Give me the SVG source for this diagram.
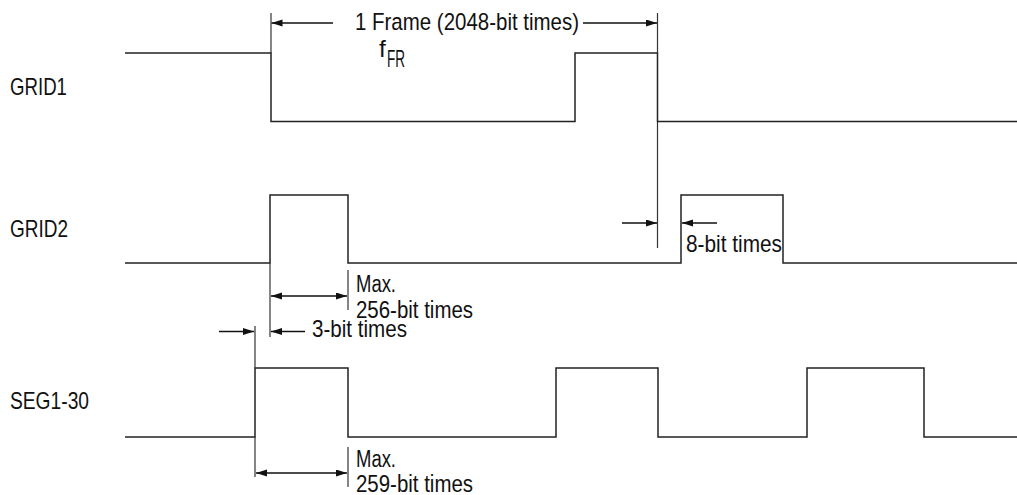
<svg xmlns="http://www.w3.org/2000/svg" width="1017" height="495" viewBox="0 0 1017 495">
<style>
.w{fill:none;stroke:#222;stroke-width:1.5}
.d{fill:none;stroke:#333;stroke-width:1.2}
.a{fill:none;stroke:#111;stroke-width:1.3;marker-end:url(#ah)}
.aa{fill:none;stroke:#111;stroke-width:1.3;marker-end:url(#ah);marker-start:url(#ah)}
text{font-family:"Liberation Sans",Arial,sans-serif;font-size:24.5px;fill:#111}
.s{font-size:23px}
</style>
<defs>
<marker id="ah" markerUnits="userSpaceOnUse" markerWidth="12" markerHeight="8" refX="11" refY="3.5" orient="auto-start-reverse">
<path d="M0,0 L11,3.5 L0,7 z" fill="#111"/>
</marker>
</defs>
<g id="labels">
<text x="10" y="95" textLength="57" lengthAdjust="spacingAndGlyphs">GRID1</text>
<text x="10" y="237" textLength="58" lengthAdjust="spacingAndGlyphs">GRID2</text>
<text x="10" y="409" textLength="79" lengthAdjust="spacingAndGlyphs">SEG1-30</text>
</g>
<g id="grid1">
<path class="w" d="M125,53 H271 V121.5 H575 V53 H657.5 V121.5 H1017"/>
</g>
<g id="grid2">
<path class="w" d="M125,263 H270 V195 H348 V263 H681 V195 H783 V263 H1017"/>
</g>
<g id="seg">
<path class="w" d="M125,437 H255 V368 H348 V437 H556 V368 H658 V437 H807 V368 H924 V437 H1017"/>
</g>
<g id="connectors">
<line class="d" x1="271" y1="13" x2="271" y2="53"/>
<line class="d" x1="657.5" y1="13" x2="657.5" y2="53"/>
<line class="d" x1="657.5" y1="121.5" x2="657.5" y2="248"/>
<line class="d" x1="270" y1="263" x2="270" y2="337"/>
<line class="d" x1="348" y1="270" x2="348" y2="310"/>
<line class="d" x1="255" y1="326" x2="255" y2="368"/>
<line class="d" x1="255" y1="437" x2="255" y2="477"/>
<line class="d" x1="348" y1="447" x2="348" y2="487"/>
<path class="a" d="M333,23 H271.5"/>
<path class="a" d="M583,23 H657"/>
<path class="aa" d="M271,296 H347"/>
<path class="a" d="M219,331.5 H254"/>
<path class="a" d="M305,331.5 H271"/>
<path class="aa" d="M256,473 H347"/>
<path class="a" d="M622,223 H657"/>
<path class="a" d="M717,223 H682"/>
</g>
<g id="annotations">
<text x="355" y="30" textLength="224" lengthAdjust="spacingAndGlyphs">1 Frame (2048-bit times)</text>
<text x="379" y="57">f</text>
<text x="387" y="67" textLength="18" lengthAdjust="spacingAndGlyphs">FR</text>
<text class="s" x="356" y="292" textLength="40" lengthAdjust="spacingAndGlyphs">Max.</text>
<text class="s" x="356" y="317.5" textLength="117" lengthAdjust="spacingAndGlyphs">256-bit times</text>
<text x="312" y="337" textLength="95" lengthAdjust="spacingAndGlyphs">3-bit times</text>
<text x="686" y="252" textLength="96" lengthAdjust="spacingAndGlyphs">8-bit times</text>
<text class="s" x="356" y="466.5" textLength="40" lengthAdjust="spacingAndGlyphs">Max.</text>
<text class="s" x="356" y="491.5" textLength="117" lengthAdjust="spacingAndGlyphs">259-bit times</text>
</g>
</svg>
